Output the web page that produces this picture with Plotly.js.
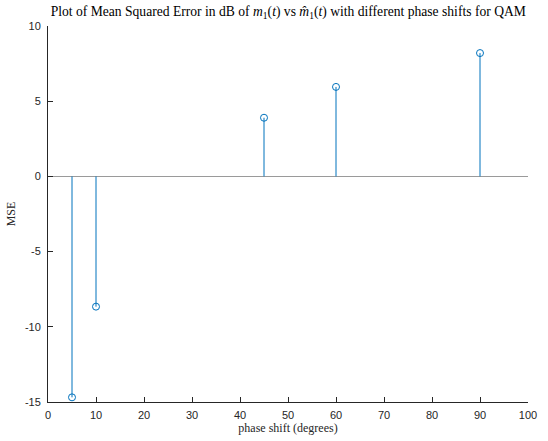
<!DOCTYPE html>
<html>
<head>
<meta charset="utf-8">
<script src="https://cdn.plot.ly/plotly-3.0.1.min.js"></script>
<style>html,body{margin:0;padding:0;background:#fff;}#chart{width:548px;height:441px;}</style>
</head>
<body>
<div id="chart"></div>
<script>
const phaseShifts = [5, 10, 45, 60, 90];
const mseDb = [-14.69, -8.66, 3.9, 5.95, 8.2];
const xTicks = [0, 10, 20, 30, 40, 50, 60, 70, 80, 90, 100];
const yTicks = [-15, -10, -5, 0, 5, 10];

const stemX = [], stemY = [];
phaseShifts.forEach((x, i) => { stemX.push(x, x, null); stemY.push(0, mseDb[i], null); });

const blue = '#0072BD';
const data = [
  {x: stemX, y: stemY, mode: 'lines', type: 'scatter', line: {color: blue, width: 1}, hoverinfo: 'skip', showlegend: false},
  {x: phaseShifts, y: mseDb, mode: 'markers', type: 'scatter',
   marker: {symbol: 'circle-open', size: 7, color: blue, line: {width: 1, color: blue}}, showlegend: false}
];

const layout = {
  width: 548, height: 441,
  margin: {l: 48, r: 20, t: 26, b: 39},
  paper_bgcolor: '#fff', plot_bgcolor: '#fff',
  title: {text: 'Plot of Mean Squared Error in dB of <i>m</i><sub>1</sub>(<i>t</i>) vs <i>m̂</i><sub>1</sub>(<i>t</i>) with different phase shifts for QAM',
          font: {family: 'Liberation Serif, DejaVu Serif, serif', size: 13.6, color: '#000'},
          x: 0.526, xanchor: 'center', y: 0.975, yanchor: 'middle'},
  xaxis: {range: [0, 100], tickvals: xTicks, ticktext: xTicks.map(String),
          showgrid: false, zeroline: false, showline: true, linecolor: '#262626', linewidth: 1,
          ticks: 'inside', ticklen: 5, tickcolor: '#262626', ticklabelstandoff: 3,
          tickfont: {family: 'Liberation Sans, Arial, sans-serif', size: 11, color: '#262626'},
          title: {text: 'phase shift (degrees)', font: {family: 'Liberation Serif, DejaVu Serif, serif', size: 12, color: '#262626'}, standoff: 3},
          mirror: false},
  yaxis: {range: [-15, 10], tickvals: yTicks, ticktext: yTicks.map(String),
          showgrid: false, zeroline: true, zerolinecolor: '#9a9a9a', zerolinewidth: 1,
          showline: true, linecolor: '#262626', linewidth: 1,
          ticks: 'inside', ticklen: 5, tickcolor: '#262626', ticklabelstandoff: 4,
          tickfont: {family: 'Liberation Sans, Arial, sans-serif', size: 11, color: '#262626'},
          title: {text: 'MSE', font: {family: 'Liberation Serif, DejaVu Serif, serif', size: 12, color: '#262626'}, standoff: 6},
          mirror: false}
};

Plotly.newPlot('chart', data, layout, {displayModeBar: false, staticPlot: true});
</script>
</body>
</html>
